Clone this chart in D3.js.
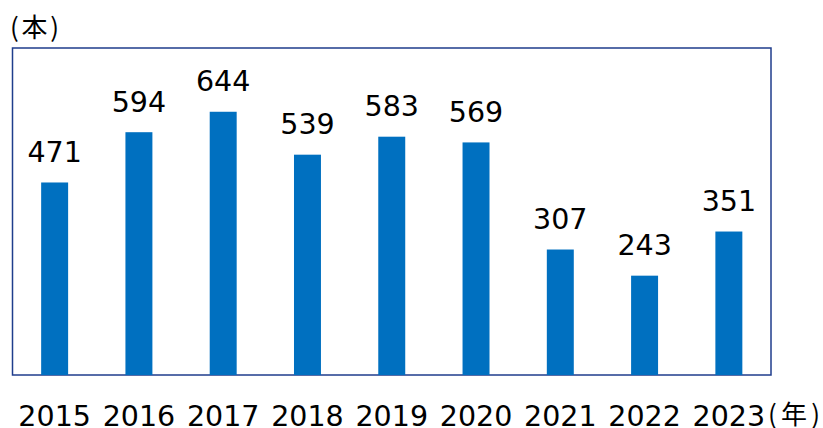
<!DOCTYPE html>
<html><head><meta charset="utf-8">
<script src="https://cdn.jsdelivr.net/npm/d3@7"></script>
<style>body{margin:0;background:#fff}svg{display:block}</style>
</head><body>
<svg id="c" width="823" height="428"></svg>
<script>
const years = ["2015","2016","2017","2018","2019","2020","2021","2022","2023"];
const counts = [471,594,644,539,583,569,307,243,351];
const unitY = "(本)";
const unitX = "(年)";

const svg = d3.select("#c");
const L = 12.5, R = 771, T = 48, B = 375;
const x = d3.scaleBand().domain(years).range([L, R]).paddingInner(0.68).paddingOuter(0.34);
const y = d3.scaleLinear().domain([0, 800]).range([B, T]);

svg.append("rect").attr("x", L).attr("y", T).attr("width", R - L).attr("height", B - T)
  .attr("fill", "none").attr("stroke", "#1F3D8C").attr("stroke-width", 1.5);

svg.selectAll(".bar").data(years).join("rect").attr("class","bar")
  .attr("x", d => x(d)).attr("width", x.bandwidth())
  .attr("y", (d,i) => y(counts[i])).attr("height", (d,i) => B - y(counts[i]))
  .attr("fill", "#0070C0");

const font = "'DejaVu Sans', Verdana, sans-serif";
svg.selectAll(".lab").data(years).join("text").attr("class","lab")
  .attr("x", d => x(d) + x.bandwidth()/2).attr("y", (d,i) => y(counts[i]) - 20.5)
  .attr("text-anchor","middle").attr("font-family", font).attr("font-size", 28.5)
  .attr("fill","#000").text((d,i) => counts[i]);

const xa = svg.append("g").attr("transform", `translate(0,${B})`)
  .call(d3.axisBottom(x).tickSize(0).tickPadding(0));
xa.select(".domain").remove();
xa.selectAll("text").attr("font-family", font).attr("font-size", 28.5).attr("fill","#000")
  .attr("dy", null).attr("y", 51);

const cjk = "'Noto Sans CJK JP', sans-serif";
svg.append("text").attr("x", 10).attr("y", 37).attr("font-family", cjk)
  .attr("font-size", 26).attr("fill","#000")
  .attr("textLength", 49).attr("lengthAdjust", "spacing").text(unitY);
svg.append("text").attr("x", 768).attr("y", 424).attr("font-family", cjk)
  .attr("font-size", 26).attr("fill","#000")
  .attr("textLength", 52).attr("lengthAdjust", "spacing").text(unitX);
</script>
</body></html>
